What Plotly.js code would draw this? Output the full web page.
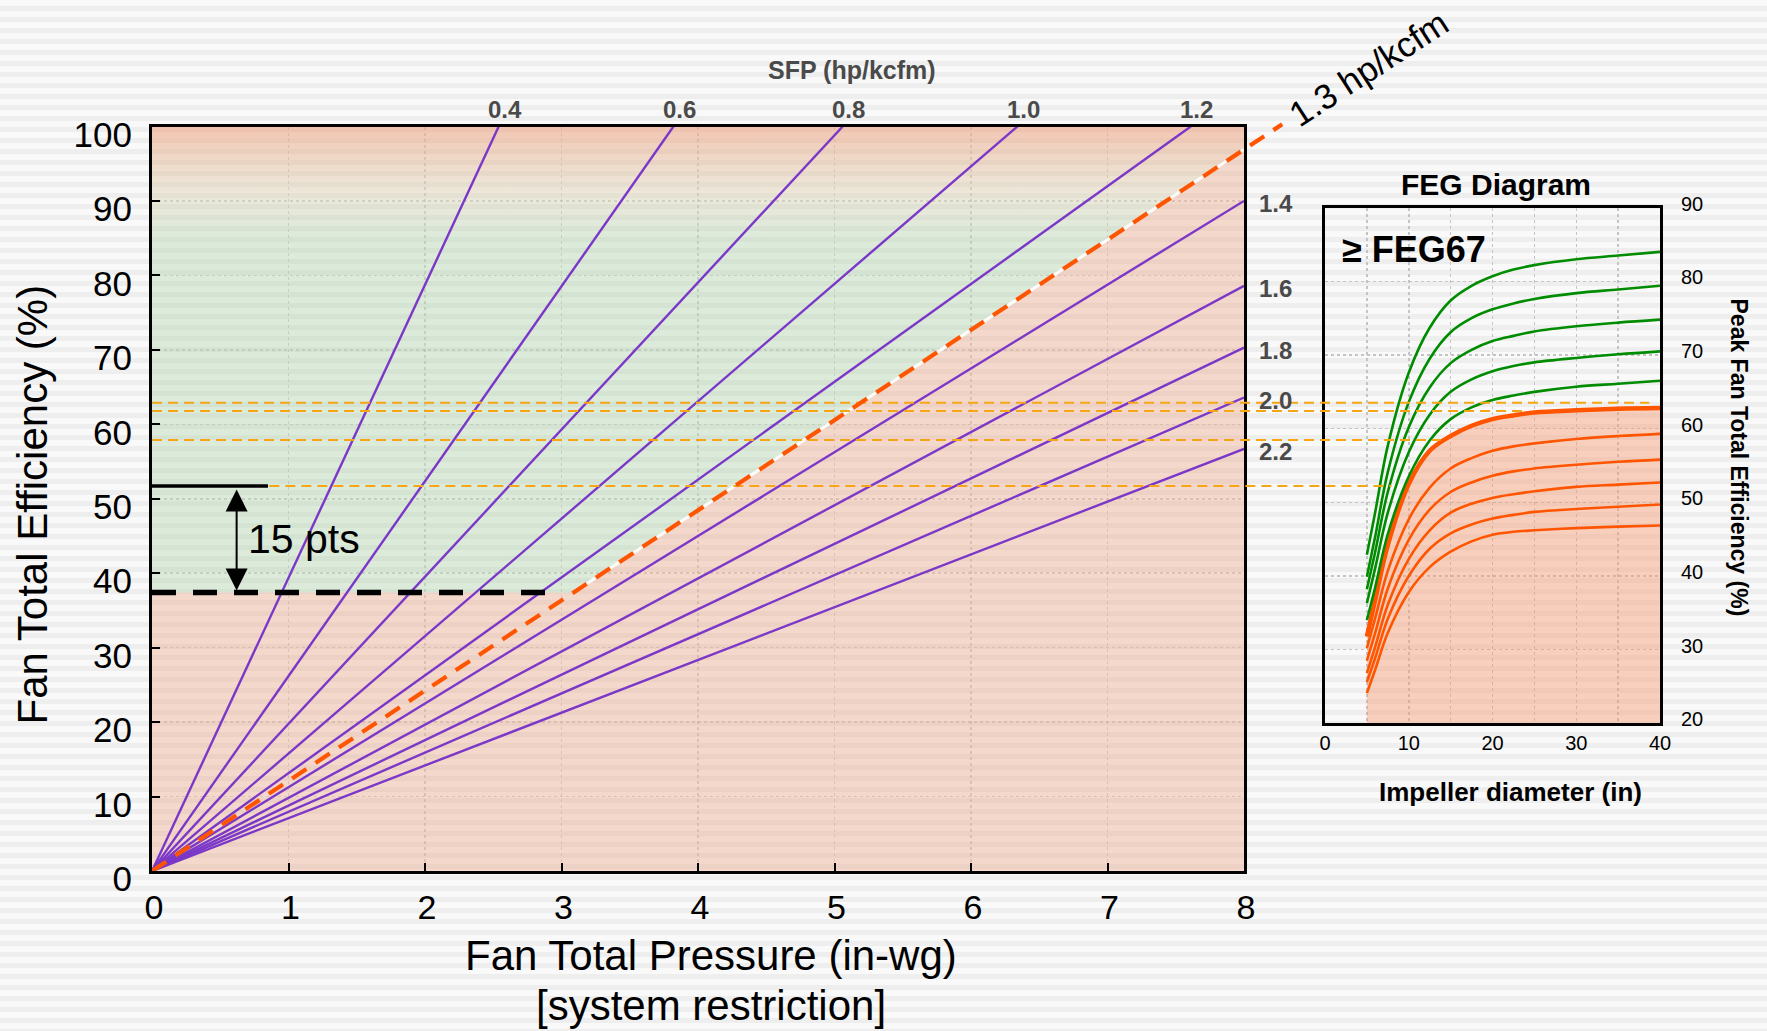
<!DOCTYPE html>
<html>
<head>
<meta charset="utf-8">
<script src="https://cdn.plot.ly/plotly-3.0.1.min.js"></script>
<style>
html,body{margin:0;padding:0;}
body{width:1767px;height:1031px;overflow:hidden;
background:repeating-linear-gradient(to bottom,#f9f9f9 0px,#f9f9f9 6px,#eeeeee 6px,#eeeeee 11px);}
#chart{width:1767px;height:1031px;}
</style>
</head>
<body>
<div id="chart"></div>
<script>
// ---------------- DATA ----------------
// Main chart: lines of constant specific fan power (SFP, hp/kcfm)
const sfpLabels = ['0.4', '0.6', '0.8', '1.0', '1.2', '1.4', '1.6', '1.8', '2.0', '2.2'];
const sfpEndPressure = [2.54, 3.82, 5.06, 6.34, 7.61, 8, 8, 8, 8, 8];      // in-wg
const sfpEndEff = [100, 100, 100, 100, 100, 90.0, 78.6, 70.3, 63.6, 56.7];  // %
// 1.3 hp/kcfm limit line (dashed), extends past the frame to its label
const sfp13Pressure = [0, 8.28];
const sfp13Eff = [0, 100.3];
const sfp13Label = '1.3 hp/kcfm';
// Minimum efficiency threshold and the reference level 15 pts above
const thresholdEff = 37.4;
const thresholdEndP = 2.95;
const referenceEff = 51.7;
const referenceEndP = 0.85;
const gapArrowP = 0.62;
const gapLabel = '15 pts';
// Amber guide lines linking efficiencies to the FEG diagram
const guideEff = [62.9, 61.8, 57.9, 51.7];
const guideStartP = [0, 0, 0, 0.86];
const guideEndP = [10.97, 10.08, 9.44, 9.08];
// Axis ticks
const mainXTicks = [0, 1, 2, 3, 4, 5, 6, 7, 8];
const mainYTicks = [0, 10, 20, 30, 40, 50, 60, 70, 80, 90, 100];

// FEG diagram: peak fan total efficiency vs impeller diameter
const fegDiameter = [5, 6, 7.5, 10, 12.5, 15, 17.5, 20, 22.5, 25, 30, 35, 40];
const fegGreen1 = [42.9, 48.7, 57.7, 67.6, 73.7, 77.4, 79.4, 80.7, 81.6, 82.2, 83.0, 83.5, 84.0];
const fegGreen2 = [39.9, 45.4, 54.1, 63.6, 69.5, 73.1, 75.0, 76.2, 77.0, 77.6, 78.4, 78.9, 79.4];
const fegGreen3 = [38.2, 43.3, 51.4, 60.2, 65.6, 68.9, 70.7, 71.9, 72.6, 73.2, 73.9, 74.4, 74.8];
const fegGreen4 = [36.3, 41.1, 48.6, 56.8, 61.9, 65.0, 66.7, 67.8, 68.5, 69.0, 69.6, 70.1, 70.5];
const fegGreen5 = [34.0, 38.5, 45.7, 53.5, 58.4, 61.3, 62.9, 63.9, 64.5, 65.0, 65.7, 66.1, 66.5];
const fegLimit67 = [31.8, 36.8, 44.2, 52.5, 57.0, 59.0, 60.4, 61.3, 61.8, 62.2, 62.5, 62.7, 62.8];
const fegOrange1 = [30.2, 34.3, 40.7, 47.7, 52.0, 54.6, 56.0, 57.0, 57.6, 58.0, 58.6, 59.0, 59.3];
const fegOrange2 = [28.5, 32.3, 38.3, 44.9, 49.0, 51.4, 52.7, 53.6, 54.2, 54.6, 55.1, 55.5, 55.8];
const fegOrange3 = [26.8, 30.4, 36.1, 42.3, 46.2, 48.6, 49.8, 50.6, 51.1, 51.5, 52.1, 52.4, 52.7];
const fegOrange4 = [25.6, 28.9, 34.2, 40.0, 43.7, 45.8, 47.0, 47.8, 48.3, 48.7, 49.1, 49.4, 49.7];
const fegOrange5 = [24.1, 27.3, 32.3, 37.8, 41.2, 43.3, 44.7, 45.6, 46.0, 46.2, 46.5, 46.7, 46.85];
const fegXTicks = [0, 5, 10, 15, 20, 25, 30, 35, 40];
const fegXTickText = ['0', '', '10', '', '20', '', '30', '', '40'];
const fegYTicks = [20, 30, 40, 50, 60, 70, 80, 90];

// ---------------- STYLE / GEOMETRY ----------------
const FONT = 'Liberation Sans, Arial, Helvetica, sans-serif';
const W = 1767, H = 1031;
const mainX = [152 / W, 1244 / W];
const mainY = [1 - 871 / H, 1 - 126.5 / H];
const fegX = [1325 / W, 1660 / W];
const fegY = [1 - 723.3 / H, 1 - 207.7 / H];
const xRange = [0, 8], yRange = [0, 100];
// overlay subplot with identical scale, larger window (for marks outside the frame)
const ovX = [mainX[0], 0.97];
const ovY = [mainY[0], 1.0];
const ovXRange = [0, xRange[1] * (ovX[1] - ovX[0]) / (mainX[1] - mainX[0])];
const ovYRange = [0, yRange[1] * (ovY[1] - ovY[0]) / (mainY[1] - mainY[0])];

const PURPLE = '#7b38c8';
const ORANGE = '#ff5500';
const GREEN = '#008c00';
const AMBER = '#f6a514';
const PINK = 'rgba(237,160,126,0.37)';
const PINK_TOP = 'rgba(238,150,112,0.52)';
const GREENFILL = 'rgba(159,203,153,0.32)';

// derived geometry of the 1.3 limit line
const slope13 = sfp13Eff[1] / sfp13Pressure[1];
const eff13AtEdge = slope13 * xRange[1];
const pInt = thresholdEff / slope13;

const traces = [];
// pink "not compliant" area
traces.push({
  x: [0, xRange[1], xRange[1], pInt, 0], y: [0, 0, eff13AtEdge, thresholdEff, thresholdEff],
  xaxis: 'x', yaxis: 'y', mode: 'lines', fill: 'toself', fillcolor: PINK,
  line: {width: 0}, hoverinfo: 'skip', showlegend: false
});
// green "compliant" area with fade to pink at the top
const gStart = thresholdEff, gStop = yRange[1];
traces.push({
  x: [0, pInt, xRange[1], xRange[1], 0], y: [thresholdEff, thresholdEff, eff13AtEdge, yRange[1], yRange[1]],
  xaxis: 'x', yaxis: 'y', mode: 'lines', fill: 'toself',
  fillcolor: GREENFILL,
  fillgradient: {
    type: 'vertical', start: gStart, stop: gStop,
    colorscale: [[0, GREENFILL], [(85 - gStart) / (gStop - gStart), GREENFILL],
                 [(91 - gStart) / (gStop - gStart), 'rgba(214,200,160,0.35)'], [1, PINK_TOP]]
  },
  line: {width: 0}, hoverinfo: 'skip', showlegend: false
});
// white edge along the limit line
traces.push({
  x: [pInt, xRange[1]], y: [thresholdEff, eff13AtEdge], xaxis: 'x', yaxis: 'y',
  mode: 'lines', line: {color: 'rgba(255,255,255,0.9)', width: 3}, hoverinfo: 'skip', showlegend: false
});
// SFP lines
sfpLabels.forEach((lab, i) => {
  traces.push({
    x: [0, sfpEndPressure[i]], y: [0, sfpEndEff[i]], xaxis: 'x', yaxis: 'y',
    mode: 'lines', line: {color: PURPLE, width: 2.4}, name: lab, hoverinfo: 'skip', showlegend: false
  });
});
// threshold (dashed black) and reference (solid black)
traces.push({
  x: [0, thresholdEndP], y: [thresholdEff, thresholdEff], xaxis: 'x', yaxis: 'y',
  mode: 'lines', line: {color: '#000', width: 5.5, dash: '24px,17px'}, hoverinfo: 'skip', showlegend: false
});
traces.push({
  x: [0, referenceEndP], y: [referenceEff, referenceEff], xaxis: 'x', yaxis: 'y',
  mode: 'lines', line: {color: '#000', width: 3.5}, hoverinfo: 'skip', showlegend: false
});

// FEG diagram
const SPL = {shape: 'spline', smoothing: 1.0};
traces.push({
  x: fegDiameter, y: fegLimit67, xaxis: 'x2', yaxis: 'y2', mode: 'lines',
  line: Object.assign({color: ORANGE, width: 4.5}, SPL),
  fill: 'tozeroy', fillcolor: 'rgba(246,155,113,0.45)', hoverinfo: 'skip', showlegend: false
});
[fegOrange1, fegOrange2, fegOrange3, fegOrange4, fegOrange5].forEach(c => traces.push({
  x: fegDiameter, y: c, xaxis: 'x2', yaxis: 'y2', mode: 'lines',
  line: Object.assign({color: ORANGE, width: 2.6}, SPL), hoverinfo: 'skip', showlegend: false
}));
[fegGreen1, fegGreen2, fegGreen3, fegGreen4, fegGreen5].forEach(c => traces.push({
  x: fegDiameter, y: c, xaxis: 'x2', yaxis: 'y2', mode: 'lines',
  line: Object.assign({color: GREEN, width: 2.6}, SPL), hoverinfo: 'skip', showlegend: false
}));

// overlay: amber guides and the 1.3 limit line
guideEff.forEach((e, i) => traces.push({
  x: [guideStartP[i], guideEndP[i]], y: [e, e], xaxis: 'x3', yaxis: 'y3', mode: 'lines',
  line: {color: AMBER, width: 2, dash: '10px,6px'}, hoverinfo: 'skip', showlegend: false
}));
traces.push({
  x: sfp13Pressure, y: sfp13Eff, xaxis: 'x3', yaxis: 'y3', mode: 'lines',
  line: {color: ORANGE, width: 4.2, dash: '17px,11px'}, hoverinfo: 'skip', showlegend: false
});

// ---------------- ANNOTATIONS ----------------
const ann = [];
const grayBold = {family: FONT, size: 24, color: '#4a4a4a', weight: 'bold'};
sfpLabels.forEach((lab, i) => {
  if (sfpEndEff[i] >= yRange[1]) {
    ann.push({x: sfpEndPressure[i], y: sfpEndEff[i], xref: 'x', yref: 'y', text: lab, showarrow: false,
      xanchor: 'center', yanchor: 'middle', xshift: 6, yshift: 17, font: grayBold});
  } else {
    ann.push({x: xRange[1], y: sfpEndEff[i], xref: 'x', yref: 'y', text: lab, showarrow: false,
      xanchor: 'left', yanchor: 'middle', xshift: 13, yshift: -3, font: grayBold});
  }
});
ann.push({x: 852 / W, y: 1 - 70 / H, xref: 'paper', yref: 'paper', text: 'SFP (hp/kcfm)', showarrow: false,
  xanchor: 'center', yanchor: 'middle', font: {family: FONT, size: 25, color: '#4a4a4a', weight: 'bold'}});
ann.push({x: 1368 / W, y: 1 - 68 / H, xref: 'paper', yref: 'paper', text: sfp13Label, showarrow: false,
  textangle: -33, xanchor: 'center', yanchor: 'middle', font: {family: FONT, size: 35, color: '#000'}});
ann.push({x: gapArrowP, y: thresholdEff, ax: gapArrowP, ay: referenceEff, xref: 'x', yref: 'y',
  axref: 'x', ayref: 'y', text: '', showarrow: true, arrowhead: 2, startarrowhead: 2,
  arrowside: 'end+start', arrowsize: 2.2, startarrowsize: 2.2, arrowwidth: 2, arrowcolor: '#000',
  standoff: 2, startstandoff: 2});
ann.push({x: 1.11, y: 44.6, xref: 'x', yref: 'y', text: gapLabel, showarrow: false,
  xanchor: 'center', yanchor: 'middle', font: {family: FONT, size: 41, color: '#000'}});
ann.push({x: 711 / W, y: 1 - 955 / H, xref: 'paper', yref: 'paper', text: 'Fan Total Pressure (in-wg)',
  showarrow: false, xanchor: 'center', yanchor: 'middle', font: {family: FONT, size: 42, color: '#000'}});
ann.push({x: 711 / W, y: 1 - 1005 / H, xref: 'paper', yref: 'paper', text: '[system restriction]',
  showarrow: false, xanchor: 'center', yanchor: 'middle', font: {family: FONT, size: 42, color: '#000'}});
ann.push({x: 32 / W, y: 1 - 504.5 / H, xref: 'paper', yref: 'paper', text: 'Fan Total Efficiency (%)',
  showarrow: false, textangle: -90, xanchor: 'center', yanchor: 'middle',
  font: {family: FONT, size: 42, color: '#000'}});
ann.push({x: 1496 / W, y: 1 - 184 / H, xref: 'paper', yref: 'paper', text: 'FEG Diagram', showarrow: false,
  xanchor: 'center', yanchor: 'middle', font: {family: FONT, size: 30, color: '#000', weight: 'bold'}});
ann.push({x: 1414 / W, y: 1 - 249 / H, xref: 'paper', yref: 'paper', text: '≥ FEG67', showarrow: false,
  xanchor: 'center', yanchor: 'middle', font: {family: FONT, size: 36, color: '#000', weight: 'bold'}});
ann.push({x: 1510 / W, y: 1 - 792 / H, xref: 'paper', yref: 'paper', text: 'Impeller diameter (in)',
  showarrow: false, xanchor: 'center', yanchor: 'middle',
  font: {family: FONT, size: 26, color: '#000', weight: 'bold'}});
ann.push({x: 1739 / W, y: 1 - 457.5 / H, xref: 'paper', yref: 'paper', text: 'Peak Fan Total Efficiency (%)',
  showarrow: false, textangle: 90, xanchor: 'center', yanchor: 'middle',
  font: {family: FONT, size: 23, color: '#000', weight: 'bold'}});

// ---------------- LAYOUT ----------------
const gridMain = {showgrid: true, gridcolor: 'rgba(185,185,185,0.6)', griddash: 'dot', gridwidth: 1.5};
const layout = {
  width: W, height: H, autosize: false,
  margin: {l: 0, r: 0, t: 0, b: 0, pad: 0},
  paper_bgcolor: 'rgba(0,0,0,0)', plot_bgcolor: 'rgba(0,0,0,0)',
  font: {family: FONT, color: '#000'},
  showlegend: false, hovermode: false,
  xaxis: Object.assign({
    domain: mainX, range: xRange, autorange: false, anchor: 'y', tickvals: mainXTicks,
    ticks: 'inside', ticklen: 8, tickwidth: 2, tickcolor: '#000',
    showline: true, linewidth: 3, linecolor: '#000', mirror: true, zeroline: false,
    tickfont: {family: FONT, size: 34, color: '#000'}, ticklabelstandoff: 4, ticklabelshift: 2
  }, gridMain),
  yaxis: Object.assign({
    domain: mainY, range: yRange, autorange: false, anchor: 'x', tickvals: mainYTicks,
    ticks: 'inside', ticklen: 8, tickwidth: 2, tickcolor: '#000',
    showline: true, linewidth: 3, linecolor: '#000', mirror: true, zeroline: false,
    tickfont: {family: FONT, size: 35, color: '#000'}, ticklabelstandoff: 10, ticklabelshift: 8
  }, gridMain),
  xaxis2: {
    domain: fegX, range: [0, 40], autorange: false, anchor: 'y2', tickvals: fegXTicks, ticktext: fegXTickText,
    ticks: '', showline: true, linewidth: 3, linecolor: '#000', mirror: true, zeroline: false,
    showgrid: true, gridcolor: '#c4c4c4', griddash: 'dot', gridwidth: 1.5,
    tickfont: {family: FONT, size: 20, color: '#000'}, ticklabelstandoff: 0
  },
  yaxis2: {
    domain: fegY, range: [20, 90], autorange: false, anchor: 'x2', side: 'right', tickvals: fegYTicks,
    ticks: '', showline: true, linewidth: 3, linecolor: '#000', mirror: true, zeroline: false,
    showgrid: true, gridcolor: '#c4c4c4', griddash: 'dot', gridwidth: 1.5,
    tickfont: {family: FONT, size: 20, color: '#000'}, ticklabelstandoff: 14, ticklabelshift: -4
  },
  xaxis3: {domain: ovX, range: ovXRange, autorange: false, anchor: 'y3', visible: false, fixedrange: true},
  yaxis3: {domain: ovY, range: ovYRange, autorange: false, anchor: 'x3', visible: false, fixedrange: true},
  annotations: ann
};

Plotly.newPlot('chart', traces, layout, {staticPlot: true, displayModeBar: false});
</script>
</body>
</html>
